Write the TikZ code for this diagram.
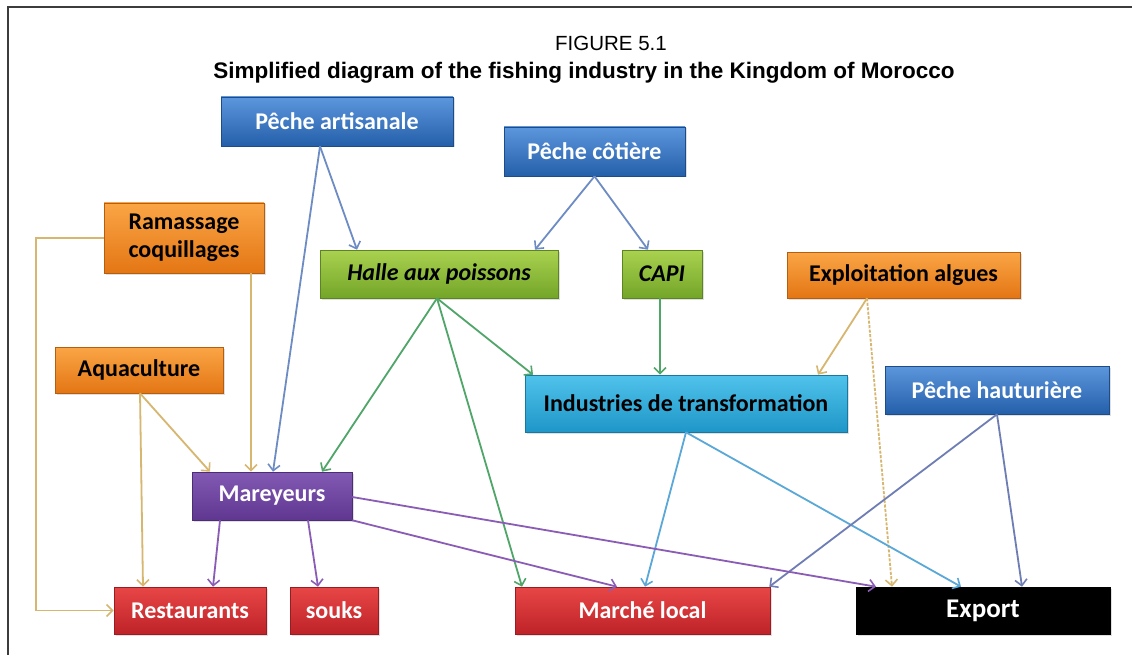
\documentclass[tikz,border=0pt]{standalone}
\usepackage{fontspec}
\setmainfont{Carlito}
\newfontfamily\titlefont{Liberation Sans}
\usetikzlibrary{arrows.meta,shadows}
\definecolor{BlueT}{RGB}{92,150,220}
\definecolor{BlueB}{RGB}{36,95,170}
\definecolor{OrT}{RGB}{250,165,70}
\definecolor{OrB}{RGB}{228,118,20}
\definecolor{GrT}{RGB}{170,210,80}
\definecolor{GrB}{RGB}{115,165,40}
\definecolor{CyT}{RGB}{80,195,235}
\definecolor{CyB}{RGB}{30,150,200}
\definecolor{PuT}{RGB}{130,90,180}
\definecolor{PuB}{RGB}{95,55,145}
\definecolor{ReT}{RGB}{232,70,70}
\definecolor{ReB}{RGB}{190,35,40}
\definecolor{LBlue}{RGB}{110,140,196}
\definecolor{LTan}{RGB}{215,182,112}
\definecolor{LGreen}{RGB}{80,165,105}
\definecolor{LCyan}{RGB}{90,168,215}
\definecolor{LSlate}{RGB}{110,125,180}
\definecolor{LPurple}{RGB}{138,92,181}
\definecolor{Frame}{RGB}{60,60,60}
\begin{document}
\begin{tikzpicture}[x=1pt,y=-1pt,
  box/.style={rectangle, inner sep=0pt, align=center,
    font=\fontsize{24}{28}\selectfont\bfseries, line width=0.6pt,
    drop shadow={opacity=0.25,shadow xshift=1.5pt,shadow yshift=-1.5pt}},
  bluebox/.style={box, top color=BlueT, bottom color=BlueB, draw=BlueB!80!black, text=white},
  orbox/.style={box, top color=OrT, bottom color=OrB, draw=OrB!80!black, text=black},
  grbox/.style={box, top color=GrT, bottom color=GrB, draw=GrB!80!black, text=black, font=\fontsize{24}{28}\selectfont\bfseries\itshape},
  cybox/.style={box, top color=CyT, bottom color=CyB, draw=CyB!80!black, text=black},
  pubox/.style={box, top color=PuT, bottom color=PuB, draw=PuB!80!black, text=white},
  rebox/.style={box, top color=ReT, bottom color=ReB, draw=ReB!80!black, text=white},
  bkbox/.style={box, fill=black, draw=black, text=white, font=\fontsize{27}{30}\selectfont\bfseries},
  conn/.style={line width=1.8pt, -{Straight Barb[length=6pt,width=12pt,line width=1.6pt]}},
  titletext/.style={font=\titlefont\fontsize{20.5}{24}\selectfont, inner sep=0pt}
]
\useasboundingbox (0,0) rectangle (1132,655);
\fill[white] (0,0) rectangle (1132,655);
\draw[Frame, line width=1.8pt] (8,655) -- (8,7) -- (1132,7);

\node[titletext] (fig) at (611,43) {FIGURE 5.1};
\node[titletext, font=\titlefont\bfseries\fontsize{22.5}{26}\selectfont] (title) at (584,73) {Simplified diagram of the fishing industry in the Kingdom of Morocco};

\node[bluebox, minimum width=232pt, minimum height=49pt] (pa) at (337,121.5) {Pêche artisanale};
\node[bluebox, minimum width=181pt, minimum height=49pt] (pc) at (594.5,151.5) {Pêche côtière};
\node[orbox, minimum width=160pt, minimum height=70pt] (rc) at (184,238) {Ramassage\\coquillages};
\node[grbox, minimum width=238pt, minimum height=48pt] (halle) at (439,274) {Halle aux poissons};
\node[grbox, minimum width=80pt, minimum height=48pt] (capi) at (662,274) {CAPI};
\node[orbox, minimum width=233pt, minimum height=46pt] (ea) at (903.5,275) {Exploitation algues};
\node[orbox, minimum width=168pt, minimum height=46pt] (aq) at (139,370) {Aquaculture};
\node[cybox, minimum width=322pt, minimum height=57pt] (ind) at (686,403.5) {Industries de transformation};
\node[bluebox, minimum width=224pt, minimum height=48pt] (ph) at (997,390) {Pêche hauturière};
\node[pubox, minimum width=160pt, minimum height=48pt] (mar) at (272,496) {Mareyeurs};
\node[rebox, minimum width=152pt, minimum height=47pt] (rest) at (190,610.5) {Restaurants};
\node[rebox, minimum width=88pt, minimum height=47pt] (souks) at (334,610.5) {souks};
\node[rebox, minimum width=255pt, minimum height=47pt] (ml) at (642.5,610.5) {Marché local};
\node[bkbox, minimum width=254pt, minimum height=47pt] (exp) at (983,610.5) {Export};

% blue from fishing
\draw[conn, LBlue] ([xshift=-17pt]pa.south) -- ([xshift=-82pt]halle.north);
\draw[conn, LBlue] ([xshift=-17pt]pa.south) -- ([xshift=1pt]mar.north);
\draw[conn, LBlue] (pc.south) -- ([xshift=96pt]halle.north);
\draw[conn, LBlue] (pc.south) -- ([xshift=-14pt]capi.north);
% tan
\draw[conn, LTan] (rc.west) -- ([xshift=-68pt]rc.west) |- (rest.west);
\draw[conn, LTan] ([xshift=67pt]rc.south) -- ([xshift=-21pt]mar.north);
\draw[conn, LTan] ([xshift=1pt]aq.south) -- ([xshift=-47pt]rest.north);
\draw[conn, LTan] ([xshift=1pt]aq.south) -- ([xshift=-62pt]mar.north);
\draw[conn, LTan] ([xshift=-36.5pt]ea.south) -- ([xshift=132pt]ind.north);
\draw[conn, LTan, dash pattern=on 3pt off 1.5pt] ([xshift=-36.5pt]ea.south) -- ([xshift=-91pt]exp.north);
% green
\draw[conn, LGreen] ([xshift=-2pt]halle.south) -- ([xshift=50pt]mar.north);
\draw[conn, LGreen] ([xshift=-2pt]halle.south) -- ([xshift=-120.5pt]ml.north);
\draw[conn, LGreen] ([xshift=-2pt]halle.south) -- ([xshift=-153pt]ind.north);
\draw[conn, LGreen] ([xshift=-2pt]capi.south) -- ([xshift=-26pt]ind.north);
% industries
\draw[conn, LCyan] (ind.south) -- ([xshift=2.5pt]ml.north);
\draw[conn, LCyan] (ind.south) -- ([xshift=-22pt]exp.north);
% hauturiere
\draw[conn, LSlate] (ph.south) -- ([xshift=-1pt]ml.north east);
\draw[conn, LSlate] (ph.south) -- ([xshift=39pt]exp.north);
% mareyeurs
\draw[conn, LPurple] ([xshift=-52pt]mar.south) -- ([xshift=23pt]rest.north);
\draw[conn, LPurple] ([xshift=36pt]mar.south) -- ([xshift=-16pt]souks.north);
\draw[conn, LPurple] (mar.south east) -- ([xshift=-25.5pt]ml.north);
\draw[conn, LPurple] ([yshift=-1pt]mar.east) -- ([xshift=-107pt]exp.north);
\end{tikzpicture}
\end{document}
